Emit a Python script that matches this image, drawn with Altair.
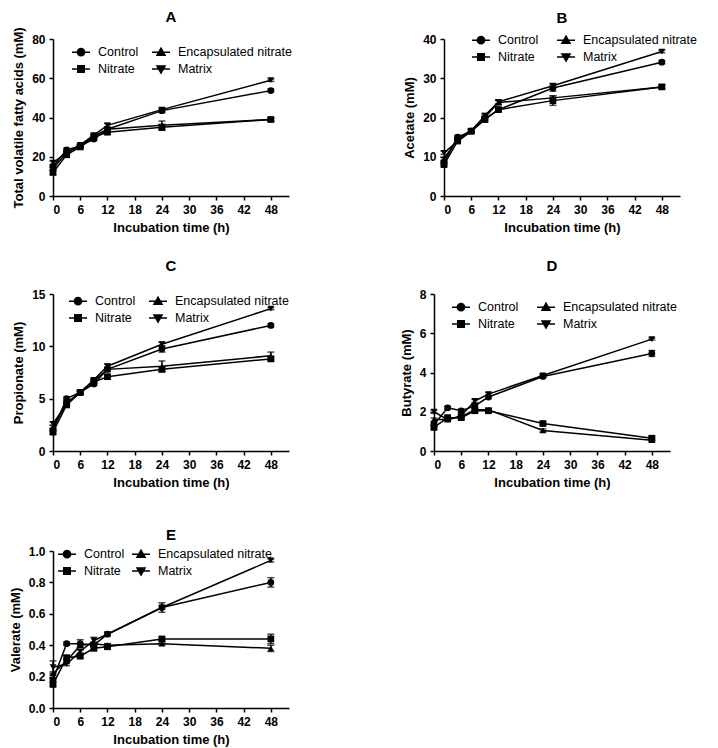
import altair as alt
import pandas as pd

FONT = "Liberation Sans"

times = [0, 3, 6, 9, 12, 24, 48]
groups = ["Control", "Nitrate", "Encapsulated nitrate", "Matrix"]

# Total volatile fatty acids (mM)
tvfa_control = [15.0, 23.5, 25.5, 29.0, 34.0, 43.5, 53.7]
tvfa_nitrate = [12.0, 21.0, 25.0, 30.0, 32.5, 35.0, 39.0]
tvfa_encaps = [14.0, 22.0, 25.5, 30.5, 34.0, 36.0, 39.0]
tvfa_matrix = [17.0, 22.0, 26.0, 31.0, 36.0, 44.0, 59.0]
tvfa_err_control = [0.6, 0.8, 0.6, 0.8, 1.0, 1.0, 0.8]
tvfa_err_nitrate = [1.0, 0.8, 0.7, 0.8, 0.8, 1.5, 0.8]
tvfa_err_encaps = [0.8, 0.8, 0.6, 0.8, 1.0, 2.2, 0.8]
tvfa_err_matrix = [0.8, 0.8, 0.6, 0.8, 1.0, 1.0, 0.6]

# Acetate (mM)
ace_control = [8.5, 15.0, 16.5, 19.5, 22.0, 27.5, 34.1]
ace_nitrate = [8.0, 14.0, 16.5, 19.5, 22.0, 24.3, 27.8]
ace_encaps = [9.5, 14.5, 16.8, 20.0, 23.8, 25.0, 27.8]
ace_matrix = [11.0, 14.0, 16.5, 20.5, 24.0, 28.1, 36.8]
ace_err_control = [0.4, 0.4, 0.4, 0.5, 0.5, 0.8, 0.4]
ace_err_nitrate = [0.4, 0.4, 0.4, 0.5, 0.5, 1.2, 0.4]
ace_err_encaps = [0.4, 0.4, 0.4, 0.5, 0.5, 0.5, 0.4]
ace_err_matrix = [0.4, 0.4, 0.4, 0.5, 0.5, 0.5, 0.3]

# Propionate (mM)
pro_control = [2.0, 5.0, 5.6, 6.4, 7.8, 9.75, 12.0]
pro_nitrate = [1.8, 4.4, 5.6, 6.6, 7.1, 7.8, 8.8]
pro_encaps = [2.3, 4.6, 5.6, 6.7, 7.8, 8.1, 9.1]
pro_matrix = [2.6, 4.5, 5.6, 6.8, 8.1, 10.2, 13.6]
pro_err_control = [0.15, 0.15, 0.15, 0.15, 0.2, 0.3, 0.15]
pro_err_nitrate = [0.15, 0.15, 0.15, 0.15, 0.2, 0.2, 0.2]
pro_err_encaps = [0.15, 0.15, 0.15, 0.15, 0.2, 0.5, 0.35]
pro_err_matrix = [0.15, 0.15, 0.15, 0.15, 0.2, 0.2, 0.1]

# Butyrate (mM)
but_control = [1.35, 2.2, 2.05, 2.3, 2.75, 3.8, 4.97]
but_nitrate = [1.2, 1.7, 1.7, 2.05, 2.05, 1.4, 0.65]
but_encaps = [1.6, 1.6, 1.75, 2.1, 2.1, 1.05, 0.55]
but_matrix = [2.0, 1.6, 1.8, 2.55, 2.9, 3.85, 5.7]
but_err_control = [0.08, 0.08, 0.08, 0.08, 0.08, 0.08, 0.15]
but_err_nitrate = [0.08, 0.08, 0.08, 0.08, 0.08, 0.08, 0.1]
but_err_encaps = [0.08, 0.08, 0.08, 0.08, 0.08, 0.08, 0.08]
but_err_matrix = [0.08, 0.08, 0.08, 0.08, 0.08, 0.08, 0.05]

# Valerate (mM)
val_control = [0.18, 0.41, 0.41, 0.40, 0.47, 0.64, 0.80]
val_nitrate = [0.15, 0.32, 0.33, 0.38, 0.39, 0.44, 0.44]
val_encaps = [0.22, 0.30, 0.40, 0.41, 0.40, 0.41, 0.38]
val_matrix = [0.26, 0.28, 0.36, 0.43, 0.47, 0.64, 0.94]
val_err_control = [0.01, 0.01, 0.025, 0.01, 0.01, 0.03, 0.03]
val_err_nitrate = [0.01, 0.015, 0.01, 0.01, 0.01, 0.01, 0.03]
val_err_encaps = [0.01, 0.01, 0.01, 0.01, 0.01, 0.01, 0.02]
val_err_matrix = [0.04, 0.01, 0.01, 0.02, 0.01, 0.01, 0.01]

shape_range = ["circle", "square", "triangle-up", "triangle-down"]
legend_paths = [
    "M-1,0H1M-0.4,0A0.4,0.4 0 1,0 0.4,0A0.4,0.4 0 1,0 -0.4,0Z",
    "M-1,0H1M-0.36,-0.36H0.36V0.36H-0.36Z",
    "M-1,0H1M0,-0.45L0.45,0.33H-0.45Z",
    "M-1,0H1M0,0.45L0.45,-0.33H-0.45Z",
]


def panel(vals, errs, title, ytitle, ymax, ystep, yfmt, legx, legy, colpad, toff):
    rows = []
    for g, series, err in zip(groups, vals, errs):
        for t, v, e in zip(times, series, err):
            rows.append({"t": t, "v": v, "lo": v - e, "hi": v + e, "g": g, "lg": g})
    df = pd.DataFrame(rows)
    nticks = int(round(ymax / ystep))
    yvals = [round(i * ystep, 3) for i in range(nticks + 1)]
    xs = alt.Scale(domain=[0, 52], nice=False, zero=False)
    ys = alt.Scale(domain=[0, ymax], nice=False)
    xa = alt.Axis(values=list(range(0, 49, 6)), title="Incubation time (h)")
    ya = alt.Axis(values=yvals, format=yfmt, title=ytitle)

    def X(f):
        return alt.X(f, type="quantitative", scale=xs, axis=xa)

    def Y(f):
        return alt.Y(f, type="quantitative", scale=ys, axis=ya)

    base = alt.Chart(df)
    line = base.mark_line(color="black", strokeWidth=1.5).encode(
        x=X("t"), y=Y("v"), detail="g:N"
    )
    rule = base.mark_rule(color="black", strokeWidth=1.5).encode(
        x=X("t"), y=Y("lo"), y2="hi:Q"
    )
    tlo = base.mark_tick(orient="horizontal", color="black", size=7, thickness=1.5).encode(
        x=X("t"), y=Y("lo")
    )
    thi = base.mark_tick(orient="horizontal", color="black", size=7, thickness=1.5).encode(
        x=X("t"), y=Y("hi")
    )
    pts = base.mark_point(filled=True, color="black", opacity=1, size=45).encode(
        x=X("t"),
        y=Y("v"),
        shape=alt.Shape("g:N", scale=alt.Scale(domain=groups, range=shape_range), legend=None),
    )
    leg = base.transform_filter("datum.t < 0").mark_point(
        filled=False, color="black", fill="black", stroke="black", strokeWidth=1.5, opacity=1
    ).encode(
        x=X("t"),
        y=Y("v"),
        shape=alt.Shape(
            "lg:N",
            title=None,
            scale=alt.Scale(domain=groups, range=legend_paths),
            legend=alt.Legend(
                orient="none",
                legendX=legx,
                legendY=legy,
                columns=2,
                symbolSize=324,
                symbolStrokeWidth=1.5,
                symbolOpacity=1,
                labelFont=FONT,
                labelFontSize=12.5,
                labelColor="black",
                labelOffset=7,
                rowPadding=0,
                columnPadding=colpad,
                padding=0,
            ),
        ),
    )
    return (
        alt.layer(line, rule, tlo, thi, pts, leg)
        .resolve_scale(shape="independent")
        .properties(
            width=236,
            height=157,
            title=alt.TitleParams(title, offset=toff, anchor="middle", frame="group"),
        )
    )


pA = panel([tvfa_control, tvfa_nitrate, tvfa_encaps, tvfa_matrix],
           [tvfa_err_control, tvfa_err_nitrate, tvfa_err_encaps, tvfa_err_matrix],
           "A", "Total volatile fatty acids (mM)", 80, 20, "d", 18, 3, 10, 2)
pB = panel([ace_control, ace_nitrate, ace_encaps, ace_matrix],
           [ace_err_control, ace_err_nitrate, ace_err_encaps, ace_err_matrix],
           "B", "Acetate (mM)", 40, 10, "d", 27, -9, 15, 4)
pC = panel([pro_control, pro_nitrate, pro_encaps, pro_matrix],
           [pro_err_control, pro_err_nitrate, pro_err_encaps, pro_err_matrix],
           "C", "Propionate (mM)", 15, 5, "d", 15, -3, 10, 14)
pD = panel([but_control, but_nitrate, but_encaps, but_matrix],
           [but_err_control, but_err_nitrate, but_err_encaps, but_err_matrix],
           "D", "Butyrate (mM)", 8, 2, "d", 17, 3, 15, 14)
pE = panel([val_control, val_nitrate, val_encaps, val_matrix],
           [val_err_control, val_err_nitrate, val_err_encaps, val_err_matrix],
           "E", "Valerate (mM)", 1.0, 0.2, ".1f", 4, -7, 4, 1)

row1 = alt.hconcat(pA, pB, spacing=111)
row2 = alt.hconcat(pC, pD, spacing=111)
top = alt.vconcat(row1, row2, spacing=25)
chart = (
    alt.vconcat(top, pE, spacing=39)
    .properties(padding={"left": 1, "top": 1, "right": 5, "bottom": 5})
    .configure_view(stroke=None)
    .configure_axis(
        grid=False,
        domainColor="black",
        domainWidth=1.5,
        tickColor="black",
        tickWidth=1.5,
        tickSize=4,
        labelFont=FONT,
        labelFontSize=12,
        labelFontWeight="bold",
        labelColor="black",
        titleFont=FONT,
        titleFontSize=13,
        titleFontWeight="bold",
        titleColor="black",
    )
    .configure_axisX(labelPadding=4, titlePadding=6)
    .configure_axisY(labelPadding=4, titlePadding=6)
    .configure_title(font=FONT, fontSize=15, fontWeight="bold", color="black")
)

chart.save("out.html", embed_options={"renderer": "svg", "actions": False})
